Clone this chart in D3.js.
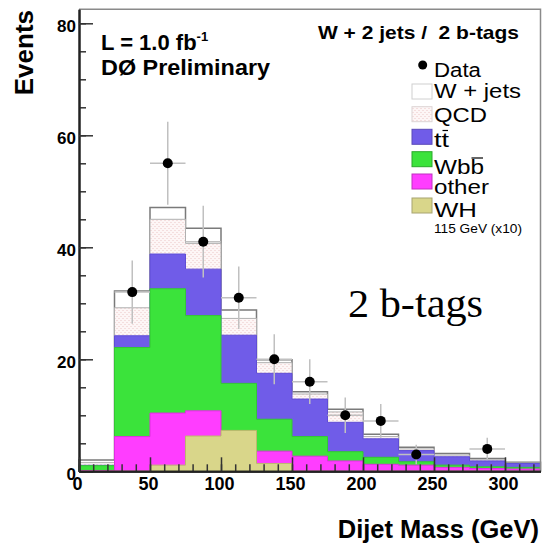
<!DOCTYPE html>
<html>
<head>
<meta charset="utf-8">
<script src="https://cdn.jsdelivr.net/npm/d3@7/dist/d3.min.js"></script>
<style>
body { margin: 0; background: #fff; }
text { font-family: "Liberation Sans", Arial, Helvetica, sans-serif; }
.axis text { font-weight: bold; fill: #000; }
.axis line { stroke: #333; stroke-width: 1.5; }
.axis path { stroke: #222; stroke-width: 2; }
.err { stroke: #c0c0c0; stroke-width: 1.5; }
</style>
</head>
<body>
<svg id="thevis" width="542" height="547"></svg>
<script>
// dijet mass bins, 25 GeV wide
var binEdges = [0, 25, 50, 75, 100, 125, 150, 175, 200, 225, 250, 275, 300, 325];

// background stack (events per bin), bottom to top
var other = [0.15, 6.2, 10.4, 10.8, 4.0, 3.6, 2.7, 1.85, 1.25, 1.1, 0.7, 0.5, 0.4];
var wbb   = [0.85, 15.9, 22.2, 17.0, 11.7, 5.7, 3.5, 1.65, 1.25, 0.6, 0.4, 0.3, 0.3];
var ttbar = [0.07, 2.1, 6.2, 8.3, 8.6, 8.2, 6.7, 5.25, 3.3, 2.0, 1.5, 1.05, 0.7];
var qcd   = [0.48, 5.0, 6.2, 4.6, 3.0, 1.9, 0.9, 1.85, 0.4, 0.3, 0.3, 0.2, 0.1];
var wjets = [0.45, 3.0, 2.1, 2.7, 1.5, 0.5, 0.4, 0.5, 0.4, 0.3, 0.3, 0.25, 0.1];

// WH 115 GeV signal (x10), overlaid
var wh = [0, 0, 1.1, 6.3, 7.3, 1.4, 0, 0, 0, 0, 0, 0, 0];

// observed data
var dataCounts = [0, 32, 55, 41, 31, 20, 16, 10, 9, 3, 0, 4, 0];

var yMajor = [0, 20, 40, 60, 80];
var xMajor = [0, 50, 100, 150, 200, 250, 300];

var legendLabels = ["Data", "W + jets", "QCD", "tt", "Wbb", "other", "WH"];

var svg = d3.select("svg");
var pLeft = 79, pRight = 540.5, pTop = 9.3, pBottom = 471.3;

var x = d3.scaleLinear().domain([0, 325]).range([pLeft, pRight]);
var y = d3.scaleLinear().domain([0, 82.5]).range([pBottom, pTop]);

var defs = svg.append("defs");
var pat = defs.append("pattern")
    .attr("id", "qcdPat")
    .attr("patternUnits", "userSpaceOnUse")
    .attr("width", 4).attr("height", 4);
pat.append("rect").attr("width", 4).attr("height", 4).attr("fill", "#fdf6f6");
pat.append("rect").attr("x", 0).attr("y", 0).attr("width", 2).attr("height", 1).attr("fill", "#f4dede");
pat.append("rect").attr("x", 2).attr("y", 2).attr("width", 2).attr("height", 1).attr("fill", "#f4dede");

// build table for the stack
var rows = binEdges.slice(0, -1).map(function(lo, i) {
  return {lo: lo, hi: binEdges[i + 1], other: other[i], wbb: wbb[i], ttbar: ttbar[i], qcd: qcd[i], wjets: wjets[i]};
});
var keys = ["other", "wbb", "ttbar", "qcd", "wjets"];
var stacked = d3.stack().keys(keys)(rows);

var style = {
  wjets: {fill: "#ffffff", stroke: "#7a7a7a", w: 1.5},
  qcd:   {fill: "url(#qcdPat)", stroke: "#b0b0b0", w: 1},
  ttbar: {fill: "#705ce8", stroke: "#5f4dd6", w: 1},
  wbb:   {fill: "#3be33b", stroke: "#33c833", w: 1},
  other: {fill: "#ff3dff", stroke: "#e02ee0", w: 1}
};

function stepPoints(vals) {
  var pts = vals.map(function(v, i) { return [binEdges[i], v]; });
  pts.push([binEdges[binEdges.length - 1], vals[vals.length - 1]]);
  return pts;
}

var area = d3.area()
    .curve(d3.curveStepAfter)
    .x(function(d) { return x(d[0]); })
    .y0(y(0))
    .y1(function(d) { return y(d[1]); });

var hist = svg.append("g");
// ROOT-like: draw cumulative sums from the top layer down
stacked.slice().reverse().forEach(function(layer) {
  var tops = layer.map(function(d) { return d[1]; });
  var s = style[layer.key];
  hist.append("path")
      .attr("d", area(stepPoints(tops)))
      .attr("fill", s.fill)
      .attr("stroke", s.stroke)
      .attr("stroke-width", s.w);
});

// WH overlay
hist.append("path")
    .attr("d", area(stepPoints(wh)))
    .attr("fill", "#d9d68a")
    .attr("stroke", "#bcb86e")
    .attr("stroke-width", 1);

// data points with sqrt(N) errors
var pts = dataCounts.map(function(n, i) { return {n: n, lo: binEdges[i], hi: binEdges[i + 1]}; })
    .filter(function(d) { return d.n > 0; });
var dg = svg.append("g");
dg.selectAll(".eh").data(pts).enter().append("line")
    .attr("class", "err")
    .attr("x1", function(d) { return x(d.lo); })
    .attr("x2", function(d) { return x(d.hi); })
    .attr("y1", function(d) { return y(d.n); })
    .attr("y2", function(d) { return y(d.n); });
dg.selectAll(".ev").data(pts).enter().append("line")
    .attr("class", "err")
    .attr("x1", function(d) { return x((d.lo + d.hi) / 2); })
    .attr("x2", function(d) { return x((d.lo + d.hi) / 2); })
    .attr("y1", function(d) { return y(d.n + Math.sqrt(d.n)); })
    .attr("y2", function(d) { return y(d.n - Math.sqrt(d.n)); });
dg.selectAll("circle").data(pts).enter().append("circle")
    .attr("cx", function(d) { return x((d.lo + d.hi) / 2); })
    .attr("cy", function(d) { return y(d.n); })
    .attr("r", 5)
    .attr("fill", "#000");

// frame (top / right)
svg.append("path")
    .attr("d", "M" + pLeft + "," + pTop + "H" + pRight + "V" + pBottom)
    .attr("fill", "none")
    .attr("stroke", "#8a8a8a")
    .attr("stroke-width", 1.5);

// axes, ticks pointing inward
svg.append("g").attr("class", "axis")
    .attr("transform", "translate(" + pLeft + ",0)")
    .call(d3.axisLeft(y).tickValues(d3.range(0, 82, 5)).tickSize(-7).tickSizeOuter(0).tickFormat(""));
var ya = svg.append("g").attr("class", "axis")
    .attr("transform", "translate(" + pLeft + ",0)")
    .call(d3.axisLeft(y).tickValues(yMajor).tickSize(-14).tickSizeOuter(0).tickPadding(3));
ya.selectAll("text").attr("font-size", 17).attr("dy", "0.5em");

svg.append("g").attr("class", "axis")
    .attr("transform", "translate(0," + pBottom + ")")
    .call(d3.axisBottom(x).tickValues(d3.range(0, 326, 10)).tickSize(-7).tickSizeOuter(0).tickFormat(""));
var xa = svg.append("g").attr("class", "axis")
    .attr("transform", "translate(0," + pBottom + ")")
    .call(d3.axisBottom(x).tickValues(xMajor).tickSize(-14).tickSizeOuter(0).tickPadding(6));
xa.selectAll("text").attr("font-size", 18).attr("dx", -2);

// axis titles
svg.append("text")
    .attr("transform", "translate(33,10) rotate(-90)")
    .attr("text-anchor", "end")
    .attr("font-weight", "bold")
    .attr("font-size", 26)
    .text("Events");

svg.append("text")
    .attr("x", 539).attr("y", 538)
    .attr("text-anchor", "end")
    .attr("font-weight", "bold")
    .attr("font-size", 25.5)
    .text("Dijet Mass (GeV)");

// labels in the plot
var lum = svg.append("text")
    .attr("x", 101).attr("y", 50)
    .attr("font-weight", "bold")
    .attr("font-size", 22);
lum.append("tspan").text("L = 1.0 fb");
lum.append("tspan").attr("dy", -9).attr("font-size", 13).text("-1");

svg.append("text")
    .attr("x", 101).attr("y", 75)
    .attr("font-weight", "bold")
    .attr("font-size", 22)
    .attr("textLength", 169).attr("lengthAdjust", "spacingAndGlyphs")
    .text("DØ Preliminary");

svg.append("text")
    .attr("x", 318).attr("y", 39)
    .attr("font-weight", "bold")
    .attr("font-size", 19)
    .style("white-space", "pre")
    .attr("textLength", 201).attr("lengthAdjust", "spacingAndGlyphs")
    .text("W + 2 jets /  2 b-tags");

svg.append("text")
    .attr("x", 348).attr("y", 317)
    .style("font-family", "'Liberation Serif', 'Times New Roman', serif")
    .attr("font-size", 40)
    .attr("textLength", 135).attr("lengthAdjust", "spacingAndGlyphs")
    .text("2 b-tags");

// legend
var lg = svg.append("g");
var boxTops = [null, 84, 106.7, 129.3, 151.7, 174, 198];
var textBase = [77, 98.3, 121.7, 146.5, 174, 194, 216.5];
var textW = [47, 87, 53, 15, 50, 55, 43];
var boxFill = [null, "#ffffff", "url(#qcdPat)", "#705ce8", "#3be33b", "#ff3dff", "#d9d68a"];
var boxStroke = [null, "#d0d0d0", "#dcd4d4", "#5a4ab8", "#2aa82a", "#c030c0", "#a8a470"];

lg.append("circle").attr("cx", 422.7).attr("cy", 65).attr("r", 4.5).attr("fill", "#000");
legendLabels.forEach(function(lab, i) {
  if (i > 0) {
    lg.append("rect")
        .attr("x", 412).attr("y", boxTops[i])
        .attr("width", 20).attr("height", 15)
        .attr("fill", boxFill[i])
        .attr("stroke", boxStroke[i])
        .attr("stroke-width", 1);
  }
  var t = lg.append("text")
      .attr("x", 434).attr("y", textBase[i])
      .attr("font-size", 20)
      .attr("textLength", textW[i]).attr("lengthAdjust", "spacingAndGlyphs")
      .text(lab);
  // bar over the last letter for tt and Wbb
  if (lab === "tt" || lab === "Wbb") {
    var ext = t.node().getExtentOfChar(lab.length - 1);
    lg.append("line")
        .attr("x1", ext.x + 1).attr("x2", ext.x + ext.width - 1)
        .attr("y1", textBase[i] - 16).attr("y2", textBase[i] - 16)
        .attr("stroke", "#000").attr("stroke-width", 1.2);
  }
});
lg.append("text")
    .attr("x", 434).attr("y", 233)
    .attr("font-size", 12)
    .attr("textLength", 88).attr("lengthAdjust", "spacingAndGlyphs")
    .text("115 GeV (x10)");
</script>
</body>
</html>
